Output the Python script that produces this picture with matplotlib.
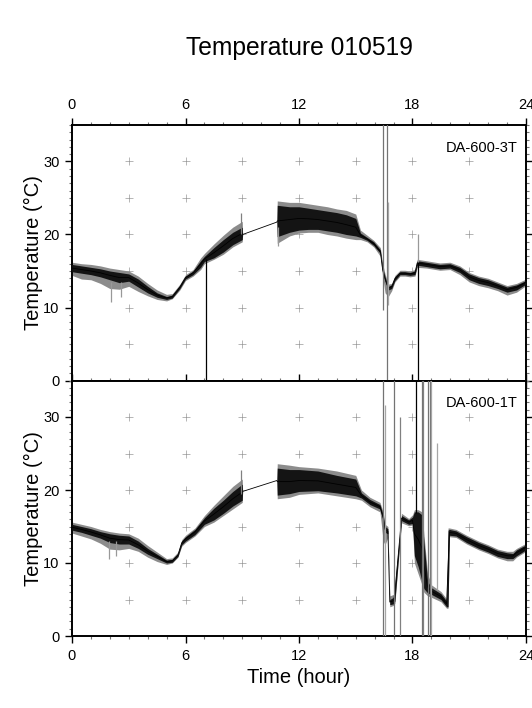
import matplotlib.pyplot as plt
import numpy as np

plt.rcParams['font.family'] = ['Liberation Sans', 'DejaVu Sans']

# ---- DA-600-3T (upper panel): time, dark band low/high, grey extremes low/high
top_t = [0.0, 0.5, 1.0, 1.5, 2.0, 2.5, 3.0, 3.5, 4.0, 4.5, 5.0, 5.3, 5.7, 6.0, 6.4,
         6.8, 7.0, 7.5, 8.0, 8.5, 9.0, 9.02, 10.83, 10.85, 11.5, 12.0, 12.5, 13.0,
         13.5, 14.0, 14.5, 15.0, 15.25, 15.6, 15.95, 16.3, 16.42, 16.55, 16.72, 16.9,
         17.07, 17.34, 17.6, 17.87, 18.13, 18.25, 18.75, 19.45, 19.98, 20.5, 21.0,
         21.5, 22.0, 22.5, 23.0, 23.5, 24.0]
top_lo = [14.9, 14.7, 14.5, 14.2, 13.8, 13.4, 13.6, 12.8, 12.0, 11.4, 11.1, 11.3, 12.6, 13.9, 14.5,
          15.5, 16.3, 16.8, 17.6, 18.6, 19.3, 20.0, 21.7, 19.7, 20.3, 20.6, 20.7, 20.7,
          20.5, 20.3, 20.0, 19.8, 19.6, 19.2, 18.5, 17.4, 14.9, 13.6, 12.4, 12.6,
          13.7, 14.5, 14.5, 14.4, 14.5, 15.8, 15.6, 15.3, 15.4, 14.8, 13.8,
          13.3, 13.0, 12.6, 12.1, 12.4, 13.2]
top_hi = [15.9, 15.7, 15.5, 15.3, 15.0, 14.8, 14.6, 13.9, 12.9, 12.0, 11.5, 11.7, 13.0, 14.3, 15.0,
          16.4, 17.0, 18.2, 19.3, 20.3, 21.0, 20.0, 21.7, 24.0, 23.8, 23.8, 23.6, 23.4,
          23.2, 23.0, 22.7, 22.2, 20.2, 19.6, 19.0, 17.9, 15.5, 14.2, 12.9, 13.1,
          14.2, 14.9, 14.9, 14.8, 15.0, 16.4, 16.2, 15.9, 16.0, 15.5, 14.6,
          14.1, 13.8, 13.3, 12.8, 13.1, 13.7]
top_min = [14.4, 13.9, 13.8, 13.3, 12.6, 12.5, 12.9, 12.2, 11.6, 11.1, 10.9, 11.2, 12.4, 13.7, 14.3,
           15.2, 16.0, 16.6, 17.3, 18.3, 19.0, 20.0, 21.7, 18.8, 19.8, 20.2, 20.3, 20.3,
           20.0, 19.8, 19.5, 19.3, 19.3, 19.0, 18.3, 17.0, 14.3, 12.0, 11.5, 12.3,
           13.5, 14.3, 14.3, 14.2, 14.3, 15.5, 15.4, 15.1, 15.2, 14.5, 13.5,
           13.0, 12.7, 12.3, 11.7, 12.1, 13.0]
top_max = [16.2, 16.0, 15.9, 15.7, 15.4, 15.2, 15.0, 14.3, 13.3, 12.4, 11.8, 11.9, 13.2, 14.5, 15.2,
           16.8, 17.4, 18.7, 19.9, 21.0, 21.8, 20.0, 21.7, 24.6, 24.4, 24.4, 24.2, 24.0,
           23.8, 23.5, 23.3, 22.8, 20.6, 19.9, 19.2, 18.2, 16.0, 14.6, 13.2, 13.3,
           14.4, 15.1, 15.1, 15.0, 15.2, 16.6, 16.4, 16.1, 16.2, 15.7, 14.8,
           14.3, 14.0, 13.5, 13.0, 13.3, 13.9]
# isolated spikes: time, low, high, shade
top_spike_t = [2.05, 2.6, 7.08, 8.95, 10.9, 16.42, 16.63, 16.72, 18.31, 18.31]
top_spike_lo = [10.8, 11.5, 0.0, 20.0, 18.4, 9.7, 0.0, 10.4, 0.0, 16.3]
top_spike_hi = [13.5, 13.5, 16.7, 23.0, 21.0, 36.0, 36.0, 24.5, 16.3, 20.0]
top_spike_c = ['0.6', '0.6', 'black', '0.5', '0.6', '0.45', '0.45', '0.65', 'black', '0.6']

# ---- DA-600-1T (lower panel)
bot_t = [0.0, 0.5, 1.0, 1.5, 2.0, 2.5, 3.0, 3.5, 4.0, 4.5, 5.0, 5.3, 5.6, 5.8, 6.0,
         6.5, 7.0, 7.5, 8.0, 8.5, 9.0, 9.02, 10.83, 10.85, 11.5, 12.0, 13.0, 14.0,
         15.0, 15.3, 15.75, 16.28, 16.45, 16.55, 16.7, 16.8, 17.0, 17.07, 17.42,
         17.8, 18.0, 18.1, 18.3, 18.5, 18.6, 18.8, 19.0, 19.5, 19.8, 19.88, 19.95,
         20.3, 20.86, 21.5, 22.0, 22.5, 23.0, 23.3, 23.5, 24.0]
bot_lo = [14.5, 14.2, 13.8, 13.4, 12.8, 12.6, 12.6, 12.0, 11.2, 10.6, 10.0, 10.1, 10.9, 12.5, 13.0,
          13.9, 15.3, 15.9, 16.8, 17.8, 18.6, 19.8, 21.3, 19.3, 19.5, 19.8, 19.9, 19.6,
          19.2, 18.9, 18.0, 17.4, 15.8, 14.2, 14.0, 4.3, 4.4, 4.8, 15.8,
          15.3, 15.4, 11.0, 9.5, 7.5, 6.5, 5.9, 5.7, 5.0, 4.0, 4.0, 13.8,
          13.7, 12.8, 12.0, 11.5, 10.9, 10.6, 10.6, 11.0, 11.8]
bot_hi = [15.3, 15.0, 14.7, 14.3, 14.0, 13.8, 13.7, 13.0, 12.0, 11.2, 10.4, 10.5, 11.3, 13.0, 13.6,
          14.6, 16.2, 17.5, 18.6, 19.8, 20.8, 19.8, 21.3, 23.0, 22.8, 22.8, 22.6, 22.0,
          21.5, 19.6, 18.7, 18.0, 16.6, 15.0, 14.7, 5.0, 5.3, 7.0, 16.5,
          15.9, 16.3, 17.0, 17.0, 16.6, 13.0, 7.5, 6.6, 5.8, 4.8, 14.5, 14.6,
          14.4, 13.6, 12.8, 12.3, 11.7, 11.4, 11.3, 11.8, 12.5]
bot_min = [14.1, 13.7, 13.3, 12.7, 11.9, 11.8, 12.0, 11.6, 10.8, 10.2, 9.8, 10.0, 10.8, 12.3, 12.8,
           13.7, 15.0, 15.6, 16.5, 17.4, 18.3, 19.8, 21.3, 18.8, 19.0, 19.4, 19.6, 19.2,
           18.8, 18.6, 17.7, 17.0, 13.0, 12.5, 13.5, 4.0, 4.2, 4.5, 15.5,
           15.1, 15.2, 10.0, 8.5, 7.0, 6.0, 5.5, 5.3, 4.7, 3.8, 3.8, 13.6,
           13.5, 12.6, 11.8, 11.3, 10.7, 10.3, 10.3, 10.8, 11.6]
bot_max = [15.6, 15.3, 15.0, 14.6, 14.3, 14.1, 14.0, 13.4, 12.4, 11.5, 10.6, 10.7, 11.5, 13.2, 13.8,
           14.8, 16.5, 17.9, 19.2, 20.5, 21.5, 19.8, 21.3, 23.6, 23.4, 23.2, 23.0, 22.6,
           22.0, 20.0, 19.0, 18.3, 17.0, 15.3, 15.0, 5.5, 5.7, 7.5, 16.8,
           16.1, 16.6, 17.3, 17.3, 17.0, 14.0, 8.5, 7.0, 6.1, 5.1, 14.8, 14.8,
           14.6, 13.8, 13.0, 12.5, 11.9, 11.6, 11.6, 12.0, 12.7]
bot_spike_t = [1.95, 2.3, 8.95, 16.42, 16.56, 17.02, 17.34, 18.16, 18.48, 18.57, 18.83,
               18.92, 18.97, 19.27]
bot_spike_lo = [10.6, 11.0, 19.5, 0.0, 0.0, 0.0, 0.0, 16.8, 0.0, 0.0, 0.0, 0.0, 0.0, 6.3]
bot_spike_hi = [13.0, 13.0, 22.8, 36.0, 31.6, 36.0, 30.0, 36.0, 36.0, 36.0, 36.0, 36.0, 36.0, 26.4]
bot_spike_c = ['0.6', '0.6', '0.5', '0.45', '0.65', '0.45', '0.5', 'black', '0.45', '0.5',
               '0.45', '0.45', '0.65', '0.65']

grid_x = [3, 6, 9, 12, 15, 18, 21]
grid_y = [5, 10, 15, 20, 25, 30]

W, H = 532, 708
fig = plt.figure(figsize=(W / 100, H / 100), dpi=100)
ax1 = fig.add_axes([72 / W, 1 - 380.5 / H, 454 / W, 255.5 / H])
ax2 = fig.add_axes([72 / W, 1 - 636 / H, 454 / W, 255.5 / H])

panels = [
    (ax1, top_t, top_lo, top_hi, top_min, top_max,
     top_spike_t, top_spike_lo, top_spike_hi, top_spike_c, 'DA-600-3T'),
    (ax2, bot_t, bot_lo, bot_hi, bot_min, bot_max,
     bot_spike_t, bot_spike_lo, bot_spike_hi, bot_spike_c, 'DA-600-1T'),
]

gx, gy = np.meshgrid(grid_x, grid_y)
for ax, t, lo, hi, mn, mx, st, slo, shi, sc, name in panels:
    ax.plot(gx.ravel(), gy.ravel(), '+', color='0.6', ms=6, mew=0.5, zorder=1)
    # grey fringe, dark core
    ax.fill_between(t, mn, mx, color='0.55', lw=0, zorder=2)
    ax.fill_between(t, lo, hi, color='0.08', lw=0, zorder=3)
    mid = (np.array(lo) + np.array(hi)) / 2
    ax.plot(t, mid, color='black', lw=0.6, zorder=4)
    ax.vlines(st, slo, shi, colors=sc, lw=0.9, zorder=5)
    ax.text(0.982, 0.911, name, transform=ax.transAxes, ha='right', va='center',
            fontsize=10.5)

    ax.set_xlim(0, 24)
    ax.set_ylim(0, 35)
    ax.set_xticks(range(0, 25, 6))
    ax.set_xticks(range(0, 25), minor=True)
    ax.set_yticks([0, 10, 20, 30])
    ax.set_yticks(range(0, 36), minor=True)
    ax.tick_params(which='both', direction='out', top=True, right=True,
                   labelsize=10.5, pad=4)
    ax.tick_params(which='major', length=5, width=1)
    ax.tick_params(which='minor', length=2.5, width=0.8, color='0.45')
    ax.tick_params(axis='y', which='both', labelright=False)
    for s in ax.spines.values():
        s.set_linewidth(1.4)
    ax.set_ylabel('Temperature (°C)', fontsize=14.5)
    ax.yaxis.set_label_coords((43 - 72) / 454, 0.5)

ax1.tick_params(axis='x', which='both', labeltop=True, labelbottom=False)
ax2.set_xlabel('Time (hour)', fontsize=14.5, labelpad=4)

fig.text(299 / W, 1 - 48 / H, 'Temperature 010519', ha='center', va='center',
         fontsize=17.7)

fig.savefig('out.png', dpi=100)
